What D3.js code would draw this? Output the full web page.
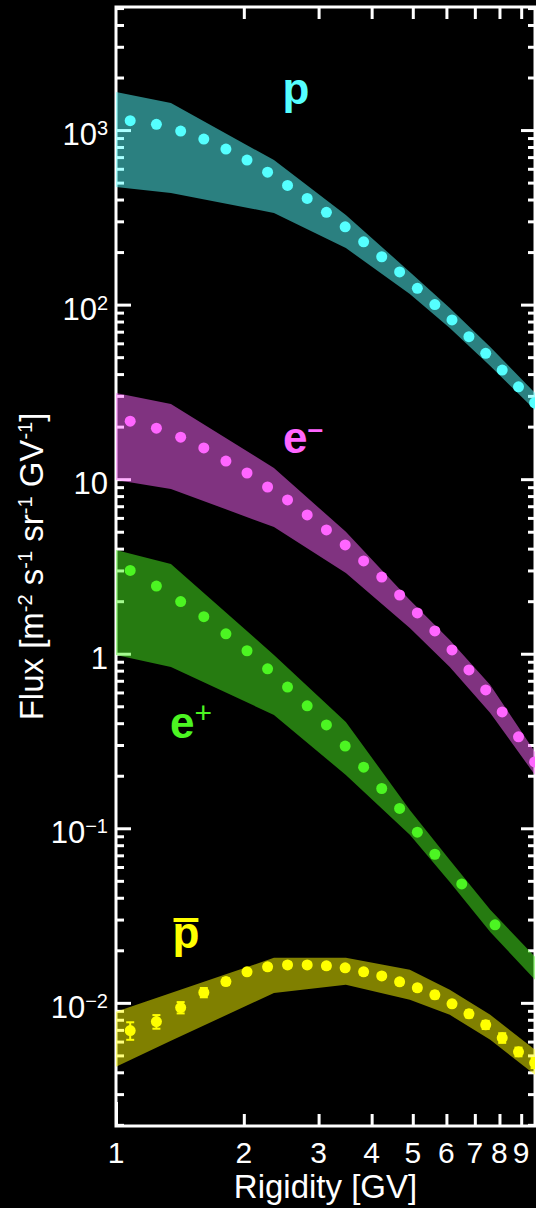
<!DOCTYPE html>
<html>
<head>
<style>
  body { margin: 0; background: #000; }
  svg { display: block; background: #000; }
  text { font-family: "Liberation Sans", Arial, Helvetica, sans-serif; fill: #fff; }
  .species { font-weight: bold; font-size: 44px; }
</style>
</head>
<body>
<svg width="536" height="1208"></svg>
<script src="https://d3js.org/d3.v7.min.js"></script>
<script>
// rigidity bin centres [GV]
var rigidity = [1.08, 1.245, 1.42, 1.61, 1.815, 2.035, 2.275, 2.535, 2.82, 3.13, 3.465,
                3.83, 4.225, 4.655, 5.125, 5.635, 6.185, 6.78, 7.425, 8.12, 8.87, 9.68];
var protonFlux = [1131, 1078, 987, 888, 778, 673, 574, 482, 406, 338, 279,
                  229, 188, 154, 124, 100, 81.7, 65.5, 52.6, 42.2, 33.8, 27.4];
var electronFlux = [21.5, 19.6, 17.4, 15.1, 12.7, 10.85, 9.02, 7.6, 6.24, 5.12, 4.2,
                    3.4, 2.75, 2.17, 1.713, 1.351, 1.051, 0.808, 0.62, 0.464, 0.334, 0.24];
var positronRigidity = [1.08, 1.245, 1.42, 1.61, 1.815, 2.035, 2.275, 2.535, 2.82, 3.13, 3.465,
                        3.83, 4.225, 4.655, 5.125, 5.635, 6.52, 7.81];
var positronFlux = [3.0, 2.44, 1.99, 1.63, 1.30, 1.04, 0.82, 0.644, 0.503, 0.391, 0.296,
                    0.224, 0.169, 0.130, 0.095, 0.071, 0.048, 0.028];
var antiprotonFlux = [0.00694, 0.00781, 0.0094, 0.01146, 0.01324, 0.01505, 0.01608, 0.0165, 0.0165, 0.01629, 0.01587,
                      0.01505, 0.01427, 0.01319, 0.01219, 0.01111, 0.00987, 0.00865, 0.00748, 0.0063, 0.00524, 0.00453];
var antiprotonErr = [0.0008, 0.0007, 0.0007, 0.0007, 0.0006, 0.0006, 0.0006, 0.0006, 0.0006, 0.0006, 0.0006,
                     0.0006, 0.0005, 0.0005, 0.0005, 0.0005, 0.0004, 0.0004, 0.0004, 0.0004, 0.0003, 0.0003];

// model bands (lower / upper edge)
var bandRigidity = [1, 1.347, 2.355, 3.478, 4.92, 6.11, 7.61, 9.7];
var protonLow  = [472, 436, 335, 211, 115, 73.5, 44.5, 24.9];
var protonHigh = [1651, 1428, 673, 326, 154, 95.6, 57.2, 31.2];
var electronLow  = [9.89, 8.79, 5.32, 2.90, 1.405, 0.840, 0.458, 0.202];
var electronHigh = [31.2, 26.97, 11.6, 4.99, 2.03, 1.20, 0.663, 0.274];
var positronLow  = [0.984, 0.840, 0.446, 0.202, 0.0917, 0.0493, 0.0255, 0.01354];
var positronHigh = [3.93, 3.27, 0.984, 0.407, 0.1274, 0.0659, 0.0341, 0.01834];
var antiprotonLow  = [0.0043, 0.00606, 0.0114, 0.01268, 0.0104, 0.00854, 0.00614, 0.00387];
var antiprotonHigh = [0.00888, 0.0114, 0.0181, 0.0181, 0.01545, 0.01187, 0.00854, 0.00538];

var yMajor = [0.01, 0.1, 1, 10, 100, 1000];
var yMajorLabels = [["10", "\u22122"], ["10", "\u22121"], ["1", ""], ["10", ""], ["10", "2"], ["10", "3"]];
var xMajor = [1];
var xMinor = [2, 3, 4, 5, 6, 7, 8, 9];
var xLabels = ["1", "2", "3", "4", "5", "6", "7", "8", "9"];

var svg = d3.select("svg"),
    margin = {top: 7, right: 1, bottom: 82, left: 116},
    width = +svg.attr("width") - margin.left - margin.right,
    height = +svg.attr("height") - margin.top - margin.bottom,
    g = svg.append("g").attr("transform", "translate(" + margin.left + "," + margin.top + ")");

var x = d3.scaleLog().domain([1, 9.7]).range([0, width]);
var y = d3.scaleLog().domain([0.00197, 5070]).range([height, 0]);

var yMinor = [];
for (var e = -3; e <= 3; e++) {
  for (var k = 2; k <= 9; k++) {
    var v = k * Math.pow(10, e);
    if (v > y.domain()[0] && v < y.domain()[1]) yMinor.push(v);
  }
}

// ticks, all pointing inward
function tickAxis(axis, sel) {
  sel.call(axis);
  sel.select(".domain").remove();
  sel.selectAll(".tick line").attr("stroke", "#fff").attr("stroke-width", 3);
}
g.append("g").call(function(s) { tickAxis(d3.axisLeft(y).tickValues(yMinor).tickSize(-8).tickFormat(""), s); });
g.append("g").call(function(s) { tickAxis(d3.axisLeft(y).tickValues(yMajor).tickSize(-15).tickFormat(""), s); });
g.append("g").attr("transform", "translate(" + width + ",0)")
  .call(function(s) { tickAxis(d3.axisRight(y).tickValues(yMinor).tickSize(-7).tickFormat(""), s); });
g.append("g").attr("transform", "translate(" + width + ",0)")
  .call(function(s) { tickAxis(d3.axisRight(y).tickValues(yMajor).tickSize(-14).tickFormat(""), s); });
g.append("g").attr("transform", "translate(0," + height + ")")
  .call(function(s) { tickAxis(d3.axisBottom(x).tickValues(xMinor).tickSize(-12).tickFormat(""), s); });
g.append("g").attr("transform", "translate(0," + height + ")")
  .call(function(s) { tickAxis(d3.axisBottom(x).tickValues(xMajor).tickSize(-24).tickFormat(""), s); });
g.append("g")
  .call(function(s) { tickAxis(d3.axisTop(x).tickValues(xMinor).tickSize(-12).tickFormat(""), s); });

// frame
g.append("rect")
  .attr("width", width).attr("height", height)
  .attr("fill", "none").attr("stroke", "#fff").attr("stroke-width", 3);

// tick labels
var yl = g.append("g").selectAll("text")
  .data(yMajor).enter().append("text")
  .attr("x", -8)
  .attr("y", function(d) { return y(d) + 15; })
  .attr("text-anchor", "end")
  .style("font-size", "31px");
yl.append("tspan").text(function(d, i) { return yMajorLabels[i][0]; });
yl.append("tspan")
  .attr("dy", "-0.5em")
  .style("font-size", "20px")
  .text(function(d, i) { return yMajorLabels[i][1]; });

g.append("g").selectAll("text")
  .data(xMajor.concat(xMinor)).enter().append("text")
  .attr("x", function(d) { return x(d); })
  .attr("y", height + 37)
  .attr("text-anchor", "middle")
  .style("font-size", "30px")
  .text(function(d, i) { return xLabels[i]; });

// axis titles
g.append("text")
  .attr("x", width / 2)
  .attr("y", height + 72)
  .attr("text-anchor", "middle")
  .style("font-size", "33px")
  .text("Rigidity [GV]");

var yt = svg.append("text")
  .attr("transform", "translate(43," + (margin.top + height / 2) + ") rotate(-90)")
  .attr("text-anchor", "middle")
  .style("font-size", "33px");
[["Flux [m", ""], ["-2", "s"], [" s", ""], ["-1", "s"], [" sr", ""], ["-1", "s"], [" GV", ""], ["-1", "s"], ["]", ""]]
  .forEach(function(p, i) {
    var t = yt.append("tspan").text(p[0]);
    if (p[1] === "s") t.attr("dy", "-11px").style("font-size", "20px");
    else if (i > 0) t.attr("dy", "11px");
  });

// bands
svg.append("clipPath").attr("id", "plot-clip")
  .append("rect").attr("width", width).attr("height", height);
var plot = g.append("g").attr("clip-path", "url(#plot-clip)");

var series = [
  {color: "#55ffff", low: protonLow, high: protonHigh, r: rigidity, flux: protonFlux},
  {color: "#ff66ff", low: electronLow, high: electronHigh, r: rigidity, flux: electronFlux},
  {color: "#4cf522", low: positronLow, high: positronHigh, r: positronRigidity, flux: positronFlux},
  {color: "#ffff00", low: antiprotonLow, high: antiprotonHigh, r: rigidity, flux: antiprotonFlux, err: antiprotonErr}
];

var area = d3.area()
  .x(function(d) { return x(d[0]); })
  .y0(function(d) { return y(d[1]); })
  .y1(function(d) { return y(d[2]); });

series.forEach(function(s) {
  plot.append("path")
    .datum(bandRigidity.map(function(r, i) { return [r, s.low[i], s.high[i]]; }))
    .attr("d", area)
    .attr("fill", s.color)
    .attr("fill-opacity", 0.5);
});

series.forEach(function(s) {
  var pts = s.r.map(function(r, i) { return {r: r, v: s.flux[i], e: s.err ? s.err[i] : 0}; });
  if (s.err) {
    var eb = plot.append("g").attr("stroke", s.color).attr("stroke-width", 2);
    eb.selectAll("line.v").data(pts).enter().append("line")
      .attr("x1", function(d) { return x(d.r); }).attr("x2", function(d) { return x(d.r); })
      .attr("y1", function(d) { return y(d.v - d.e); }).attr("y2", function(d) { return y(d.v + d.e); });
    eb.selectAll("line.lo").data(pts).enter().append("line")
      .attr("x1", function(d) { return x(d.r) - 4; }).attr("x2", function(d) { return x(d.r) + 4; })
      .attr("y1", function(d) { return y(d.v - d.e); }).attr("y2", function(d) { return y(d.v - d.e); });
    eb.selectAll("line.hi").data(pts).enter().append("line")
      .attr("x1", function(d) { return x(d.r) - 4; }).attr("x2", function(d) { return x(d.r) + 4; })
      .attr("y1", function(d) { return y(d.v + d.e); }).attr("y2", function(d) { return y(d.v + d.e); });
  }
  plot.append("g").selectAll("circle")
    .data(pts).enter().append("circle")
    .attr("cx", function(d) { return x(d.r); })
    .attr("cy", function(d) { return y(d.v); })
    .attr("r", 5.5)
    .attr("fill", s.color);
});

// species labels
svg.append("text").attr("class", "species").attr("x", 296).attr("y", 104)
  .attr("text-anchor", "middle").style("fill", "#55ffff").text("p");

var em = svg.append("text").attr("class", "species").attr("x", 283).attr("y", 453)
  .style("fill", "#ff66ff");
em.append("tspan").text("e");
em.append("tspan").attr("dy", "-0.55em").style("font-size", "28px").text("\u2013");

var ep = svg.append("text").attr("class", "species").attr("x", 170).attr("y", 738)
  .style("fill", "#4cf522");
ep.append("tspan").text("e");
ep.append("tspan").attr("dy", "-0.5em").style("font-size", "30px").style("font-weight", "normal").text("+");

var pb = svg.append("text").attr("class", "species").attr("x", 186).attr("y", 948)
  .attr("text-anchor", "middle").style("fill", "#ffff00").text("p");
var bb = pb.node().getBBox();
svg.append("line")
  .attr("x1", bb.x + 1).attr("x2", bb.x + bb.width - 1)
  .attr("y1", 948 - 28).attr("y2", 948 - 28)
  .attr("stroke", "#ffff00").attr("stroke-width", 4);
</script>
</body>
</html>
